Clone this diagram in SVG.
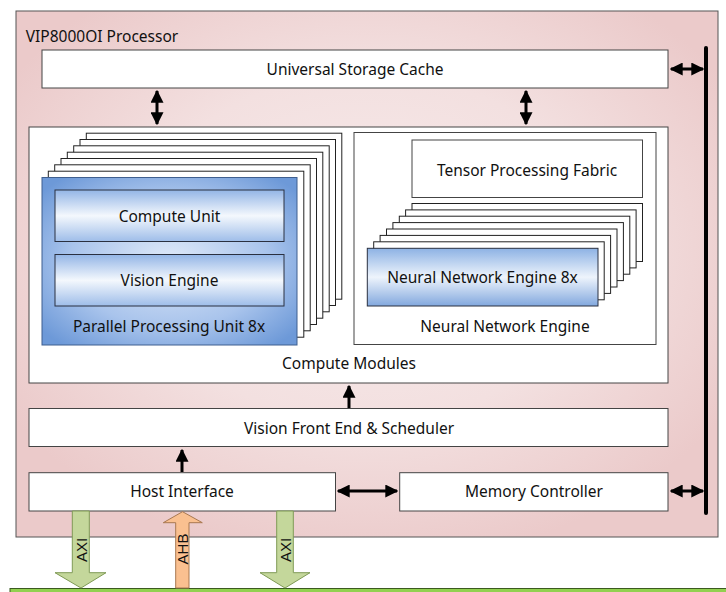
<svg xmlns="http://www.w3.org/2000/svg" width="726" height="592" viewBox="0 0 726 592">
<style>
text{font-family:"Noto Sans","Open Sans",sans-serif;font-size:15.5px;fill:#111;text-anchor:middle}
.box{fill:#fff;stroke:#444;stroke-width:1}
.frame{fill:#fff;stroke:#222;stroke-width:1}
.conn{stroke:#000;stroke-width:3;fill:none}
.bus{font-family:"Liberation Sans",Arial,sans-serif;font-size:15px}
</style>
<defs>
<radialGradient id="bg" cx="50%" cy="45%" r="60%">
<stop offset="0" stop-color="#f7ebeb"/>
<stop offset="0.55" stop-color="#f3e0e0"/>
<stop offset="1" stop-color="#ebcaca"/>
</radialGradient>
<radialGradient id="ppu" cx="50%" cy="50%" r="65%">
<stop offset="0" stop-color="#dfe9f8"/>
<stop offset="0.6" stop-color="#a9c4ec"/>
<stop offset="1" stop-color="#6d99d8"/>
</radialGradient>
<linearGradient id="cu" x1="0" y1="0" x2="0" y2="1">
<stop offset="0" stop-color="#93b5e6"/>
<stop offset="0.5" stop-color="#f4f8fd"/>
<stop offset="1" stop-color="#9ebde9"/>
</linearGradient>
<linearGradient id="nn" x1="0" y1="0" x2="0" y2="1">
<stop offset="0" stop-color="#8db2e4"/>
<stop offset="0.5" stop-color="#eef4fc"/>
<stop offset="1" stop-color="#82a8de"/>
</linearGradient>
<marker id="ah" viewBox="0 0 10 10" refX="9" refY="5" markerWidth="13" markerHeight="13" markerUnits="userSpaceOnUse" orient="auto-start-reverse">
<path d="M0,0 L10,5 L0,10 Z" fill="#000"/>
</marker>
</defs>

<g id="processor">
<rect x="16" y="11" width="702" height="526" fill="url(#bg)" stroke="#555" stroke-width="1"/>
<text x="102" y="41.5">VIP8000OI Processor</text>
</g>

<g id="bus-line">
<line x1="706" y1="48" x2="706" y2="513" stroke="#000" stroke-width="4" stroke-linecap="round"/>
</g>

<g id="universal-storage-cache">
<rect class="box" x="42" y="50" width="626" height="38"/>
<text x="355" y="74.5">Universal Storage Cache</text>
</g>

<g id="compute-modules">
<rect class="box" x="29" y="127" width="639" height="256"/>
<text x="349" y="368.5">Compute Modules</text>
</g>

<g id="parallel-processing-unit">
<rect class="frame" x="86.3" y="133.2" width="255.5" height="166"/>
<rect class="frame" x="80" y="139.5" width="255.5" height="166"/>
<rect class="frame" x="73.7" y="145.8" width="255.5" height="166"/>
<rect class="frame" x="67.3" y="152.2" width="255.5" height="166"/>
<rect class="frame" x="61" y="158.5" width="255.5" height="166"/>
<rect class="frame" x="54.7" y="164.8" width="255.5" height="166"/>
<rect class="frame" x="48.3" y="171.2" width="255.5" height="166"/>
<rect x="42" y="177.5" width="255" height="167.5" fill="url(#ppu)" stroke="#3f5f8f" stroke-width="1"/>
<text x="169" y="331.5">Parallel Processing Unit 8x</text>
</g>

<g id="compute-unit">
<rect x="55" y="190" width="229" height="51.5" fill="url(#cu)" stroke="#2a3040" stroke-width="1"/>
<text x="169.5" y="221.5">Compute Unit</text>
</g>

<g id="vision-engine">
<rect x="55" y="254.5" width="229" height="51.5" fill="url(#cu)" stroke="#2a3040" stroke-width="1"/>
<text x="169.5" y="285.5">Vision Engine</text>
</g>

<g id="neural-network-engine">
<rect class="box" x="354" y="132.5" width="302" height="212"/>
<text x="505" y="331.5">Neural Network Engine</text>
</g>

<g id="tensor-processing-fabric">
<rect class="box" x="412" y="140" width="230.5" height="57.5"/>
<text x="527" y="175.5">Tensor Processing Fabric</text>
</g>

<g id="neural-network-engine-8x">
<rect class="frame" x="412" y="203.5" width="230.5" height="58"/>
<rect class="frame" x="405.6" y="209.9" width="230.5" height="58"/>
<rect class="frame" x="399.3" y="216.2" width="230.5" height="58"/>
<rect class="frame" x="392.9" y="222.6" width="230.5" height="58"/>
<rect class="frame" x="386.5" y="229" width="230.5" height="58"/>
<rect class="frame" x="380.1" y="235.4" width="230.5" height="58"/>
<rect class="frame" x="373.7" y="241.8" width="230.5" height="58"/>
<rect x="367.3" y="248.3" width="230.7" height="57.7" fill="url(#nn)" stroke="#2a3040" stroke-width="1"/>
<text x="482.5" y="282.5">Neural Network Engine 8x</text>
</g>

<g id="vision-front-end">
<rect class="box" x="29" y="408.5" width="639" height="38"/>
<text x="349" y="433.5">Vision Front End &amp; Scheduler</text>
</g>

<g id="host-interface">
<rect class="box" x="29" y="472.7" width="306.5" height="38.3"/>
<text x="182" y="496.5">Host Interface</text>
</g>

<g id="memory-controller">
<rect class="box" x="399.7" y="472.7" width="268.3" height="38.3"/>
<text x="534" y="496.5">Memory Controller</text>
</g>

<g id="connectors">
<line class="conn" x1="157" y1="91" x2="157" y2="124" marker-start="url(#ah)" marker-end="url(#ah)"/>
<line class="conn" x1="526" y1="91" x2="526" y2="124" marker-start="url(#ah)" marker-end="url(#ah)"/>
<line class="conn" x1="671" y1="69" x2="703" y2="69" marker-start="url(#ah)" marker-end="url(#ah)"/>
<line class="conn" x1="671" y1="491" x2="703" y2="491" marker-start="url(#ah)" marker-end="url(#ah)"/>
<line class="conn" x1="338" y1="491" x2="397" y2="491" marker-start="url(#ah)" marker-end="url(#ah)"/>
<line class="conn" x1="349" y1="408" x2="349" y2="386" marker-end="url(#ah)"/>
<line class="conn" x1="182" y1="472" x2="182" y2="450" marker-end="url(#ah)"/>
</g>

<g id="system-bus">
<rect x="10" y="588.5" width="720" height="8" fill="#92d050" stroke="#3b5a20" stroke-width="1"/>
</g>

<g id="axi-1">
<path d="M72.3,511 L89.3,511 L89.3,572.7 L106,572.7 L81,588 L55,572.7 L72.3,572.7 Z" fill="#c4d79b" stroke="#7f9a55" stroke-width="1"/>
<text class="bus" transform="translate(86.5,550) rotate(-90)">AXI</text>
</g>

<g id="ahb">
<path d="M175.7,588 L175.7,522.7 L163.3,522.7 L182.5,511.7 L202.3,522.7 L189,522.7 L189,588 Z" fill="#fac090" stroke="#a87850" stroke-width="1"/>
<text class="bus" transform="translate(187.8,549) rotate(-90)">AHB</text>
</g>

<g id="axi-2">
<path d="M276.7,511 L293.3,511 L293.3,572.7 L310,572.7 L285,588 L260,572.7 L276.7,572.7 Z" fill="#c4d79b" stroke="#7f9a55" stroke-width="1"/>
<text class="bus" transform="translate(290.5,550) rotate(-90)">AXI</text>
</g>
</svg>
